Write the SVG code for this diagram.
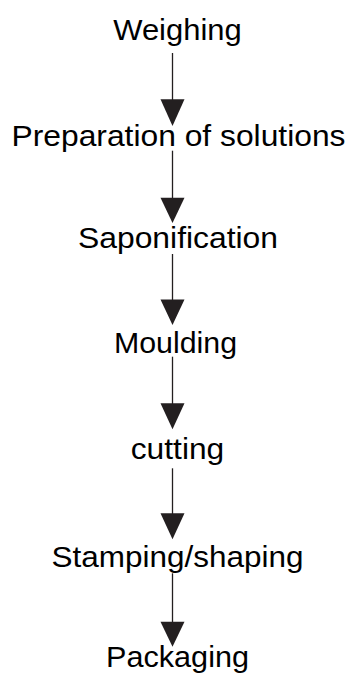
<svg xmlns="http://www.w3.org/2000/svg" width="349" height="673" viewBox="0 0 349 673">
  <defs>
    <style>
      .step { font-family: "Liberation Sans", Arial, sans-serif; font-size: 30px; fill: #000; text-anchor: middle; }
      .flow line { stroke: #231f20; stroke-width: 1.3; }
      .flow polygon { fill: #231f20; }
    </style>
  </defs>
  <rect width="349" height="673" fill="#fff"/>

  <!-- process steps -->
  <g id="weighing"><text class="step" x="177.5" y="39.5" textLength="128.5" lengthAdjust="spacingAndGlyphs">Weighing</text></g>
  <g id="preparation"><text class="step" x="178.5" y="146" textLength="334" lengthAdjust="spacingAndGlyphs">Preparation of solutions</text></g>
  <g id="saponification"><text class="step" x="178" y="248" textLength="200" lengthAdjust="spacingAndGlyphs">Saponification</text></g>
  <g id="moulding"><text class="step" x="175.5" y="352.5" textLength="123" lengthAdjust="spacingAndGlyphs">Moulding</text></g>
  <g id="cutting"><text class="step" x="177.5" y="459.3" textLength="93.5" lengthAdjust="spacingAndGlyphs">cutting</text></g>
  <g id="stamping"><text class="step" x="177.5" y="566.7" textLength="252" lengthAdjust="spacingAndGlyphs">Stamping/shaping</text></g>
  <g id="packaging"><text class="step" x="177.5" y="666.5" textLength="143" lengthAdjust="spacingAndGlyphs">Packaging</text></g>

  <!-- connectors: vertical shaft with solid triangular head -->
  <g id="connectors" class="flow">
    <line x1="172.5" y1="53" x2="172.5" y2="100"/>
    <polygon points="160.5,99.3 184.5,99.3 172.5,126"/>
    <line x1="172.5" y1="150.7" x2="172.5" y2="198"/>
    <polygon points="160.5,197.7 184.5,197.7 172.5,223"/>
    <line x1="172.5" y1="254" x2="172.5" y2="300"/>
    <polygon points="160.5,299.5 184.5,299.5 172.5,325"/>
    <line x1="172.5" y1="356.7" x2="172.5" y2="404"/>
    <polygon points="160.5,403.3 184.5,403.3 172.5,429.3"/>
    <line x1="172.5" y1="468.3" x2="172.5" y2="514"/>
    <polygon points="160.5,513.3 184.5,513.3 172.5,539.3"/>
    <line x1="172.5" y1="573.3" x2="172.5" y2="622"/>
    <polygon points="160.5,621.7 184.5,621.7 172.5,646.7"/>
  </g>
</svg>
